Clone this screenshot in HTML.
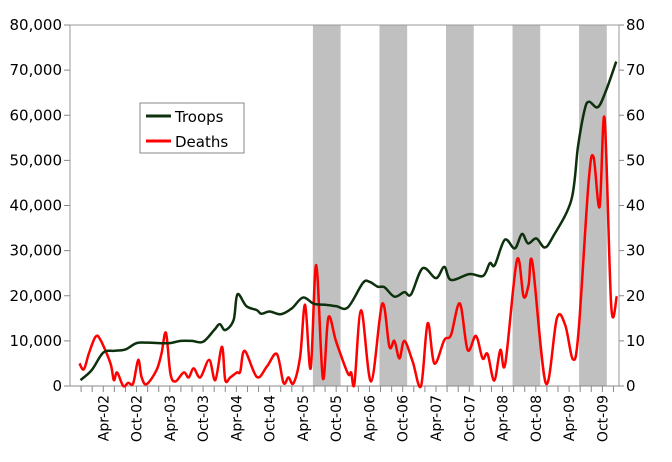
<!DOCTYPE html>
<html><head><meta charset="utf-8"><style>
body{margin:0;background:#fff}
svg{display:block;font-family:"DejaVu Sans","Liberation Sans",sans-serif}
</style></head><body>
<svg id="chart" width="672" height="462" viewBox="0 0 672 462" xmlns="http://www.w3.org/2000/svg">
<g id="bands"></g>
<rect x="70" y="25" width="549" height="361" fill="none" stroke="#999" stroke-width="1"/>
<g id="axes"></g>
<g id="series"></g>
<g>
<rect x="140" y="103" width="104" height="50" fill="#fff" stroke="#888"/>
<line x1="146" y1="116" x2="171" y2="116" stroke="#0d300d" stroke-width="3"/>
<text x="175" y="122" font-size="15" fill="#000">Troops</text>
<line x1="146" y1="141" x2="171" y2="141" stroke="#f00" stroke-width="3"/>
<text x="175" y="147" font-size="15" fill="#000">Deaths</text>
</g>
</svg>
<script>
// month index: 0 = Oct-01
const bandStarts = [43.8, 55.8, 67.8, 79.8, 91.8];
const bandLength = 5;
const yLeftTicks = ["0","10,000","20,000","30,000","40,000","50,000","60,000","70,000","80,000"];
const yRightTicks = ["0","10","20","30","40","50","60","70","80"];
const xTickLabels = ["Apr-02","Oct-02","Apr-03","Oct-03","Apr-04","Oct-04","Apr-05","Oct-05","Apr-06","Oct-06","Apr-07","Oct-07","Apr-08","Oct-08","Apr-09","Oct-09"];
const troopMonths = [1.9,3.9,6,8,10,12,14,16,18,20,22,24,26,27,28,29.5,30.2,31.8,33.7,34.5,36,38,40,42,44,46,48,50.1,52.8,54,55.5,56.7,58.5,60.3,61.5,63.6,66,67.5,68.7,72,74.5,75.7,76.6,78.4,80.2,81.5,82.6,84.1,85.6,87.1,90.4,91.6,92.8,93.6,95.2,96.7,98.5];
const troopValues = [1.3,3.5,7.4,7.8,8.1,9.5,9.6,9.5,9.5,10,10,9.8,12.4,13.7,12.4,14.6,20.3,17.7,16.8,16,16.5,15.9,17.2,19.6,18.2,18,17.7,17.4,22.8,23.1,22,21.9,19.8,20.8,20.3,26.1,23.9,26.4,23.5,24.8,24.4,27.2,26.8,32.4,30.5,33.7,31.6,32.7,30.7,33.1,41.2,53,61.2,63,61.8,65.6,71.9];
const deathMonths = [1.7,2.5,3.4,4.6,5.5,7.3,7.9,8.5,9.6,10.5,11.4,12.3,12.9,13.8,15.6,16.5,17.3,18.1,19,20.5,21.4,22.3,23.5,25.1,26.2,27.4,28,28.9,30.1,30.7,31.5,33.7,35.5,37.3,38.5,39.4,40.3,41.5,42.4,43.4,44.4,45.6,46.6,48,50.1,50.7,51.3,52.5,54.3,56.3,57.6,58.5,59.4,60.3,61.8,63.3,64.5,65.7,67.5,68.7,70.3,71.7,73.2,74.4,75.3,76.5,77.6,78.5,80.6,81.8,82.7,83.4,85.8,87.8,89.3,90.7,91.7,93.5,94.4,95.5,96.4,97.6,98.6];
const deathValues = [5,3.7,7.2,10.9,10.2,5,1.3,3,0,0.7,0.6,5.8,2,0.4,3.5,7.2,11.8,2.8,1,3,1.9,3.9,1.9,5.8,1.3,8.7,1.3,1.9,3,3.2,7.8,2,4.3,7.1,0.7,1.9,0.6,6.5,18,3.9,26.8,1.7,15.2,9.8,2.8,3,0.6,16.8,1,18.2,8.7,10,6.1,10,5.4,0,13.9,5,10.2,11.3,18.3,8,11.1,6.1,7.1,1.2,8,5,27.9,19.8,22.4,27.2,0.6,15,13.5,5.9,12,44.9,50.8,39.7,59.3,17.7,19.9];

const X0=70,X1=619,Y0=386,Y1=25,M0=0,M1=99;
const xs=m=>X0+(m-M0)/(M1-M0)*(X1-X0);
const ys=v=>Y0-v/80*(Y0-Y1);
const NS="http://www.w3.org/2000/svg";
function mk(tag,attrs,parent){const e=document.createElementNS(NS,tag);for(const k in attrs)e.setAttribute(k,attrs[k]);parent.appendChild(e);return e;}
const bands=document.getElementById('bands'),axes=document.getElementById('axes'),series=document.getElementById('series');
bandStarts.forEach(s=>{const r=mk('rect',{x:xs(s),y:Y1,width:xs(s+bandLength)-xs(s),height:Y0-Y1,fill:'#c0c0c0'},bands);

});
yLeftTicks.forEach((t,i)=>{const y=ys(i*10);
mk('line',{x1:X0-6,y1:y,x2:X0,y2:y,stroke:'#888'},axes);
const tx=mk('text',{x:X0-8,y:y+5,'font-size':15,'text-anchor':'end',fill:'#000'},axes);tx.textContent=t;

});
yRightTicks.forEach((t,i)=>{const y=ys(i*10);
mk('line',{x1:X1,y1:y,x2:X1+5,y2:y,stroke:'#888'},axes);
const tx=mk('text',{x:X1+7,y:y+5,'font-size':15,fill:'#000'},axes);tx.textContent=t;

});
mk('line',{x1:X0-6,y1:Y0,x2:X1,y2:Y0,stroke:'#888'},axes);
for(let m=2;m<=98;m+=2){mk('line',{x1:xs(m),y1:Y0,x2:xs(m),y2:Y0+6,stroke:'#888'},axes);}
xTickLabels.forEach((t,i)=>{const m=6+i*6,x=xs(m);
const tx=mk('text',{x:0,y:0,'font-size':14,'text-anchor':'end',fill:'#000',transform:`translate(${x+5},${Y0+9}) rotate(-90)`},axes);tx.textContent=t;

});
function smooth(ms,vs){const p=ms.map((m,i)=>[xs(m),ys(vs[i])]);let d=`M${p[0][0]},${p[0][1]}`;
for(let i=0;i<p.length-1;i++){const a=p[i-1]||p[i],b=p[i],c=p[i+1],e=p[i+2]||c;
d+=` C${b[0]+(c[0]-a[0])/6},${b[1]+(c[1]-a[1])/6} ${c[0]-(e[0]-b[0])/6},${c[1]-(e[1]-b[1])/6} ${c[0]},${c[1]}`;}return d;}
const dl=mk('path',{d:smooth(deathMonths,deathValues),fill:'none',stroke:'#f00','stroke-width':2.5,'stroke-linejoin':'round'},series);


const tl=mk('path',{d:smooth(troopMonths,troopValues),fill:'none',stroke:'#0d300d','stroke-width':2.5,'stroke-linejoin':'round'},series);


</script>
</body></html>
